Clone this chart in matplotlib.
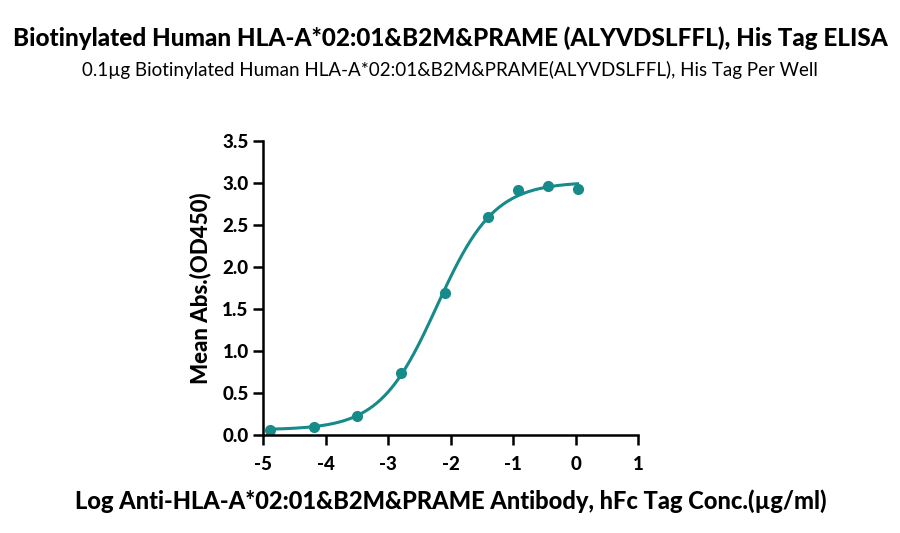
import numpy as np
import matplotlib
matplotlib.use("Agg")
import matplotlib.pyplot as plt

# data
log_conc = [-4.89, -4.19, -3.50, -2.80, -2.10, -1.40, -0.93, -0.45, 0.03]
od450 = [0.06, 0.10, 0.226, 0.742, 1.69, 2.59, 2.92, 2.96, 2.93]

title = "Biotinylated Human HLA-A*02:01&B2M&PRAME (ALYVDSLFFL), His Tag ELISA"
subtitle = "0.1\u00b5g Biotinylated Human HLA-A*02:01&B2M&PRAME(ALYVDSLFFL), His Tag Per Well"
xlabel = "Log Anti-HLA-A*02:01&B2M&PRAME Antibody, hFc Tag Conc.(\u00b5g/ml)"
ylabel = "Mean Abs.(OD450)"
color = "#178a8a"

plt.rcParams['font.family'] = ['Lato', 'DejaVu Sans']
plt.rcParams['axes.unicode_minus'] = False


# 4 parameter logistic fit: grid over ec50 / hill, bottom & top by least squares
def fit_4pl(x, y):
    x = np.asarray(x)
    y = np.asarray(y)
    best = None
    for ec in np.linspace(-3.5, -1.0, 251):
        for h in np.linspace(0.4, 2.5, 211):
            s = 1.0 / (1.0 + 10 ** ((ec - x) * h))
            A = np.column_stack([1 - s, s])
            coef, res, _, _ = np.linalg.lstsq(A, y, rcond=None)
            err = np.sum((A @ coef - y) ** 2)
            if best is None or err < best[0]:
                best = (err, coef[0], coef[1], ec, h)
    return best[1:]


bottom, top, ec50, hill = fit_4pl(log_conc, od450)
xs = np.linspace(min(log_conc), max(log_conc), 300)
ys = bottom + (top - bottom) / (1 + 10 ** ((ec50 - xs) * hill))

fig = plt.figure(figsize=(9, 5.33), dpi=100)
ax = fig.add_axes([0.2925, 0.1839, 0.4167, 0.5516])

ax.plot(xs, ys, color=color, lw=2.2)
ax.plot(log_conc, od450, 'o', color=color, ms=7)

ax.set_xlim(-5, 1)
ax.set_ylim(0, 3.5)
ax.set_xticks(np.arange(-5, 2, 1))
ax.set_yticks(np.arange(0, 3.6, 0.5))
ax.set_yticklabels([f"{v:.1f}" for v in np.arange(0, 3.6, 0.5)])
ax.spines['top'].set_visible(False)
ax.spines['right'].set_visible(False)
ax.spines['left'].set_linewidth(1.8)
ax.spines['bottom'].set_linewidth(1.8)
ax.tick_params(width=1.8, length=7, labelsize=13.5)
for lab in ax.get_xticklabels() + ax.get_yticklabels():
    lab.set_fontweight(900)
ax.tick_params(axis='x', pad=8)

ax.set_xlabel(xlabel, fontsize=17, fontweight=900, labelpad=12)
ax.set_ylabel(ylabel, fontsize=16, fontweight=900, labelpad=8)

fig.text(0.5, 0.928, title, ha='center', va='center', fontsize=17.5, fontweight=900)
fig.text(0.5, 0.869, subtitle, ha='center', va='center', fontsize=13.5)

fig.savefig("out.png", dpi=100)
